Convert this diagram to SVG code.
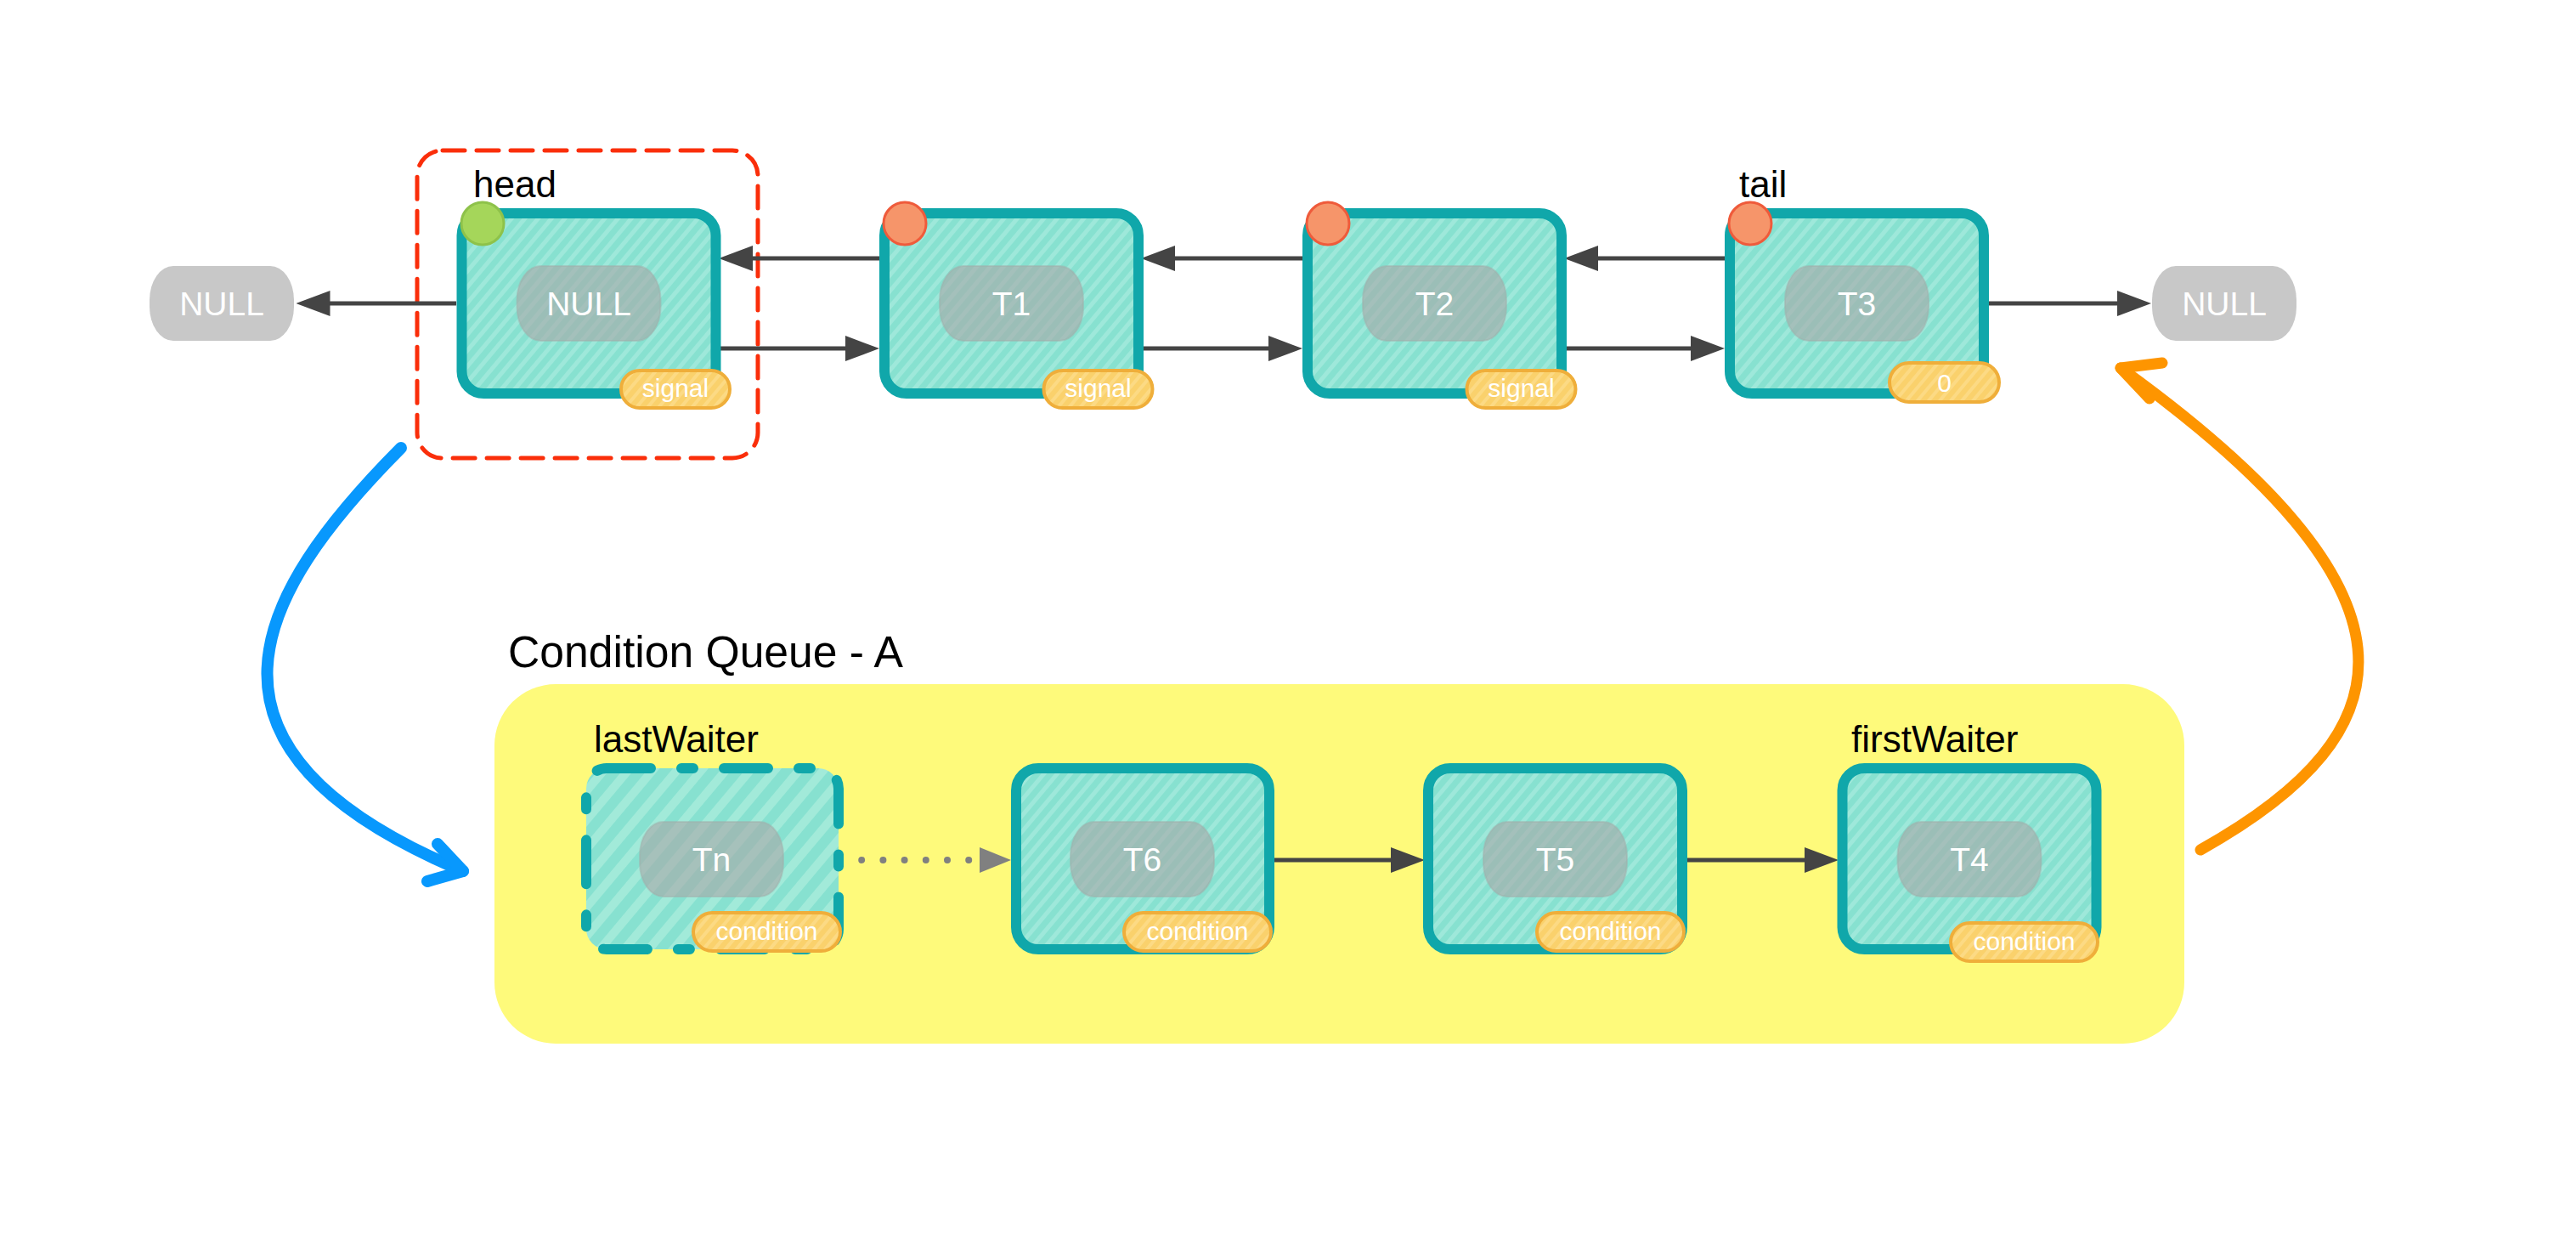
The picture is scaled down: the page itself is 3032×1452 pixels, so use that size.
<svg xmlns="http://www.w3.org/2000/svg" width="3032" height="1452" viewBox="0 0 3032 1452">
<defs>
<pattern id="hatch" width="12" height="12" patternUnits="userSpaceOnUse" patternTransform="rotate(40)">
<rect width="12" height="12" fill="#87E1D0"/><rect width="5" height="12" fill="#9EE8DA"/>
</pattern>
<pattern id="hatch2" width="22" height="22" patternUnits="userSpaceOnUse" patternTransform="rotate(40)">
<rect width="22" height="22" fill="#87E1D0"/><rect width="10" height="22" fill="#A2EAD9"/>
</pattern>
<pattern id="bhatch" width="10" height="10" patternUnits="userSpaceOnUse" patternTransform="rotate(40)">
<rect width="10" height="10" fill="#FAD16C"/><rect width="4" height="10" fill="#FCDA84"/>
</pattern>
<marker id="arr" markerUnits="userSpaceOnUse" markerWidth="40" markerHeight="30" refX="10" refY="15" orient="auto">
<path d="M0,0 L40,15 L0,30 z" fill="#444"/>
</marker>
<marker id="arrg" markerUnits="userSpaceOnUse" markerWidth="37" markerHeight="30" refX="0" refY="15" orient="auto">
<path d="M0,0 L37,15 L0,30 z" fill="#808080"/>
</marker>
</defs>
<style>
.node{fill:url(#hatch);stroke:#10A7AA;stroke-width:12}
.node-d{fill:url(#hatch2);stroke:#10A7AA;stroke-width:12;stroke-dasharray:52 36 14 36;stroke-linecap:round}
.pill{fill:#A8A8A8;fill-opacity:0.62;stroke:#A0B0AC;stroke-opacity:0.5;stroke-width:2}
.null{fill:#C8C8C8}
.pt{font-family:"Liberation Sans",Arial,sans-serif;font-size:39px;fill:#fff;text-anchor:middle}
.badge{fill:url(#bhatch);stroke:#EFAE3A;stroke-width:4}
.bt{font-family:"Liberation Sans",Arial,sans-serif;font-size:30px;fill:#fff;text-anchor:middle}
.lbl{font-family:"Liberation Sans",Arial,sans-serif;font-size:44px;fill:#000}
.red{fill:#F6956A;stroke:#EF5B3B;stroke-width:3}
.green{fill:#A5D65A;stroke:#8EC24A;stroke-width:3}
.ln{stroke:#444;stroke-width:5;fill:none}
</style>

<g id="head-box">
<rect x="491" y="177" width="401" height="362" rx="30" fill="none" stroke="#FA2E0A" stroke-width="5" stroke-dasharray="26 14" stroke-linecap="round"/>
</g>

<g id="condition-queue">
<rect x="582" y="805" width="1989" height="423" rx="72" fill="#FEFA7B"/>
<text x="598" y="785" font-family="'Liberation Sans',Arial,sans-serif" font-size="51" fill="#000" textLength="465" lengthAdjust="spacingAndGlyphs">Condition Queue - A</text>
</g>

<g id="connectors">
<line class="ln" x1="537" y1="357" x2="378.5" y2="357" marker-end="url(#arr)"/>
<line class="ln" x1="1040" y1="304" x2="876" y2="304" marker-end="url(#arr)"/>
<line class="ln" x1="843" y1="410" x2="1005" y2="410" marker-end="url(#arr)"/>
<line class="ln" x1="1538" y1="304" x2="1373" y2="304" marker-end="url(#arr)"/>
<line class="ln" x1="1340" y1="410" x2="1503" y2="410" marker-end="url(#arr)"/>
<line class="ln" x1="2035" y1="304" x2="1871" y2="304" marker-end="url(#arr)"/>
<line class="ln" x1="1838" y1="410" x2="2000" y2="410" marker-end="url(#arr)"/>
<line class="ln" x1="2341" y1="357" x2="2502" y2="357" marker-end="url(#arr)"/>
<line x1="989" y1="1012" x2="1153" y2="1012" stroke="#808080" stroke-width="8" stroke-linecap="round" stroke-dasharray="0 25.2" marker-end="url(#arrg)"/>
<line class="ln" x1="1497" y1="1012" x2="1647" y2="1012" marker-end="url(#arr)"/>
<line class="ln" x1="1981" y1="1012" x2="2134" y2="1012" marker-end="url(#arr)"/>
<path d="M472,527 C300,700 200,880 545,1025" fill="none" stroke="#0898FD" stroke-width="14" stroke-linecap="round"/>
<path d="M515,993 L545,1025 L503,1037" fill="none" stroke="#0898FD" stroke-width="14" stroke-linecap="round" stroke-linejoin="round"/>
<path d="M2590,1000 C2842,859 2863,698 2496,433" fill="none" stroke="#FE9500" stroke-width="13" stroke-linecap="round"/>
<path d="M2545,427 L2496,433 L2530,469" fill="none" stroke="#FE9500" stroke-width="13" stroke-linecap="round" stroke-linejoin="round"/>
</g>

<g id="null-left">
<rect class="null" x="176" y="313" width="170" height="88" rx="28" ry="40"/>
<text class="pt" x="261" y="371">NULL</text>
</g>

<g id="node-head">
<rect class="node" x="543.5" y="251" width="299" height="212" rx="26"/>
<rect class="pill" x="608.5" y="313" width="169" height="88" rx="28" ry="40"/>
<text class="pt" x="693" y="371">NULL</text>
<rect class="badge" x="731" y="436" width="128" height="44" rx="22"/>
<text class="bt" x="795" y="467">signal</text>
<circle class="green" cx="568" cy="263" r="25"/>
<text class="lbl" x="557" y="232">head</text>
</g>

<g id="node-t1">
<rect class="node" x="1041" y="251" width="299" height="212" rx="26"/>
<rect class="pill" x="1106" y="313" width="169" height="88" rx="28" ry="40"/>
<text class="pt" x="1190.5" y="371">T1</text>
<rect class="badge" x="1228.5" y="436" width="128" height="44" rx="22"/>
<text class="bt" x="1292.5" y="467">signal</text>
<circle class="red" cx="1065" cy="263" r="25"/>
</g>

<g id="node-t2">
<rect class="node" x="1539" y="251" width="299" height="212" rx="26"/>
<rect class="pill" x="1604" y="313" width="169" height="88" rx="28" ry="40"/>
<text class="pt" x="1688.5" y="371">T2</text>
<rect class="badge" x="1726.5" y="436" width="128" height="44" rx="22"/>
<text class="bt" x="1790.5" y="467">signal</text>
<circle class="red" cx="1563" cy="263" r="25"/>
</g>

<g id="node-t3">
<rect class="node" x="2036" y="251" width="299" height="212" rx="26"/>
<rect class="pill" x="2101" y="313" width="169" height="88" rx="28" ry="40"/>
<text class="pt" x="2185.5" y="371">T3</text>
<rect class="badge" x="2224" y="427" width="129" height="46" rx="23"/>
<text class="bt" x="2288.5" y="461">0</text>
<circle class="red" cx="2060" cy="263" r="25"/>
<text class="lbl" x="2047" y="232">tail</text>
</g>

<g id="null-right">
<rect class="null" x="2533" y="313" width="170" height="88" rx="28" ry="40"/>
<text class="pt" x="2618" y="371">NULL</text>
</g>

<g id="node-tn">
<rect class="node-d" x="690" y="904" width="297" height="213" rx="24"/>
<rect class="pill" x="753" y="967" width="169" height="88" rx="28" ry="40"/>
<text class="pt" x="837.5" y="1025">Tn</text>
<rect class="badge" x="816" y="1074" width="173" height="45" rx="22.5"/>
<text class="bt" x="902.5" y="1106">condition</text>
<text class="lbl" x="699" y="885">lastWaiter</text>
</g>

<g id="node-t6">
<rect class="node" x="1196" y="904" width="298" height="213" rx="26"/>
<rect class="pill" x="1260" y="967" width="169" height="88" rx="28" ry="40"/>
<text class="pt" x="1344.5" y="1025">T6</text>
<rect class="badge" x="1323" y="1074" width="173" height="45" rx="22.5"/>
<text class="bt" x="1409.5" y="1106">condition</text>
</g>

<g id="node-t5">
<rect class="node" x="1681" y="904" width="299" height="213" rx="26"/>
<rect class="pill" x="1746" y="967" width="169" height="88" rx="28" ry="40"/>
<text class="pt" x="1830.5" y="1025">T5</text>
<rect class="badge" x="1809" y="1074" width="173" height="45" rx="22.5"/>
<text class="bt" x="1895.5" y="1106">condition</text>
</g>

<g id="node-t4">
<rect class="node" x="2168.5" y="904" width="299" height="213" rx="26"/>
<rect class="pill" x="2233.5" y="967" width="169" height="88" rx="28" ry="40"/>
<text class="pt" x="2318" y="1025">T4</text>
<rect class="badge" x="2296" y="1086" width="173" height="45" rx="22.5"/>
<text class="bt" x="2382.5" y="1118">condition</text>
<text class="lbl" x="2179" y="885">firstWaiter</text>
</g>
</svg>
